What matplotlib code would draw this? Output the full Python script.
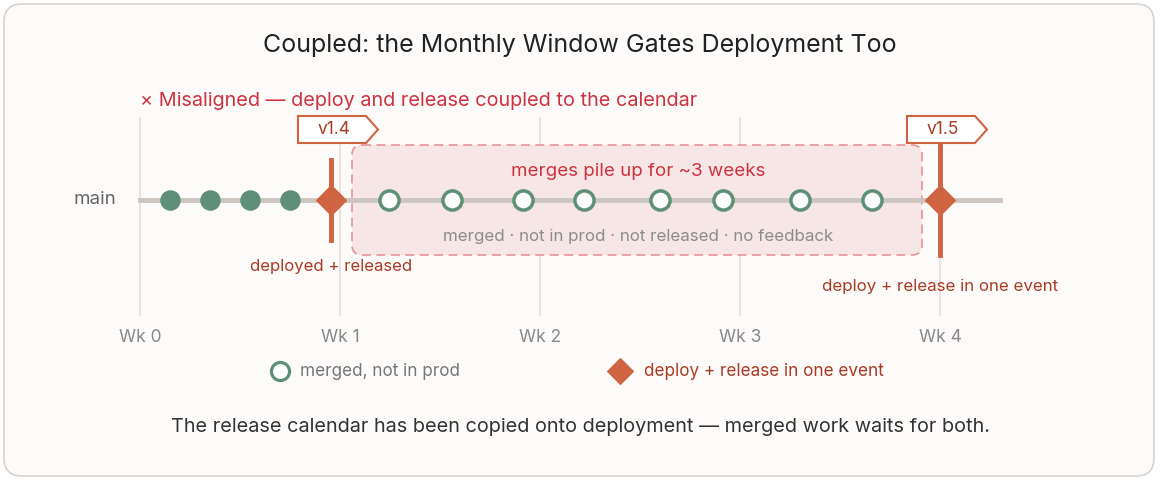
import matplotlib
matplotlib.use("Agg")
import matplotlib.pyplot as plt
from matplotlib.patches import FancyBboxPatch, Polygon

plt.rcParams["font.family"] = ["Inter", "DejaVu Sans"]

# --- data (weeks) -------------------------------------------------------
week_ticks = [0, 1, 2, 3, 4]
week_labels = ["Wk 0", "Wk 1", "Wk 2", "Wk 3", "Wk 4"]
deployed_commits = [0.15, 0.35, 0.55, 0.75]
pending_commits = [1.245, 1.56, 1.915, 2.22, 2.6, 2.915, 3.3, 3.66]
releases = [0.955, 4.0]
release_names = ["v1.4", "v1.5"]

GREEN = "#5f8f77"
ORANGE = "#cf6443"
RED = "#cc3340"
DARK = "#a83b24"
GRID = "#e6dfd9"

fig = plt.figure(figsize=(11.6, 4.8), dpi=100)
fig.patch.set_facecolor("white")
ax = fig.add_axes([0, 0, 1, 1])
ax.set_xlim(-0.7, 5.1)   # 200 px per week, Wk 0 at x=140px
ax.set_ylim(480, 0)      # y in pixels
ax.axis("off")
ppw = 200.0  # pixels per week

card = FancyBboxPatch((-0.7 + 4 / ppw, 4), 1150 / ppw, 472,
                      boxstyle="round,pad=0,rounding_size=0.09", mutation_aspect=200,
                      fc="#fdfbfa", ec="#d8d3cf", lw=1.2)
ax.add_patch(card)

ax.text(2.2, 45, "Coupled: the Monthly Window Gates Deployment Too",
        ha="center", va="center", fontsize=18, color="#222")
ax.text(0.0, 101, "× Misaligned — deploy and release coupled to the calendar",
        ha="left", va="center", fontsize=14.3, color=RED)

for w, lab in zip(week_ticks, week_labels):
    ax.plot([w, w], [118, 315], color=GRID, lw=1.2, zorder=1)
    ax.text(w, 337, lab, ha="center", va="center", fontsize=12.5, color="#888")

# pile-up box
box = FancyBboxPatch((1.06, 145), 2.85, 110,
                     boxstyle="round,pad=0,rounding_size=0.05", mutation_aspect=200,
                     fc="#f7e6e6", ec="#e89a9e", lw=1.3, ls=(0, (5, 3)), zorder=2)
ax.add_patch(box)
ax.text(2.49, 171, "merges pile up for ~3 weeks", ha="center", va="center",
        fontsize=13.5, color=RED, zorder=5)
ax.text(2.49, 236, "merged · not in prod · not released · no feedback", ha="center",
        va="center", fontsize=12.2, color="#8c8c8c", zorder=5)

# main line
ax.plot([0, 4.3], [200, 200], color="#cdc5bf", lw=3.5, zorder=3)
ax.text(-0.12, 200, "main", ha="right", va="center", fontsize=13.5, color="#666")

ax.scatter(deployed_commits, [200] * len(deployed_commits), s=190, color=GREEN, zorder=4)
ax.scatter(pending_commits, [200] * len(pending_commits), s=190, facecolor="white",
           edgecolor=GREEN, lw=2.5, zorder=4)

bars = [(160, 240), (145, 255)]
for w, (y0, y1), name in zip(releases, bars, release_names):
    ax.plot([w, w], [y0, y1], color=ORANGE, lw=3.5, zorder=5)
    ax.scatter([w], [200], marker="D", s=230, color=ORANGE, zorder=6)
    fx = w - 33 / ppw
    flag = Polygon([(fx, 116), (fx + 68 / ppw, 116), (fx + 80 / ppw, 129.5),
                    (fx + 68 / ppw, 143), (fx, 143)], closed=True,
                   fc="white", ec=ORANGE, lw=1.5, zorder=6)
    ax.add_patch(flag)
    ax.text(fx + 36 / ppw, 130, name, ha="center", va="center", fontsize=12.5,
            color=DARK, zorder=7)

ax.text(0.955, 266, "deployed + released", ha="center", va="center", fontsize=12, color=DARK)
ax.text(4.0, 286, "deploy + release in one event", ha="center", va="center",
        fontsize=12.2, color=DARK)

# legend
ax.scatter([0.7], [371], s=170, facecolor="white", edgecolor=GREEN, lw=2.3)
ax.text(0.8, 371, "merged, not in prod", ha="left", va="center", fontsize=12.3, color="#777")
ax.scatter([2.4], [371], marker="D", s=170, color=ORANGE)
ax.text(2.52, 371, "deploy + release in one event", ha="left", va="center",
        fontsize=12.3, color=DARK)

ax.text(2.2, 427, "The release calendar has been copied onto deployment — merged work waits for both.",
        ha="center", va="center", fontsize=14.3, color="#333")

fig.savefig("out.png", dpi=100)
